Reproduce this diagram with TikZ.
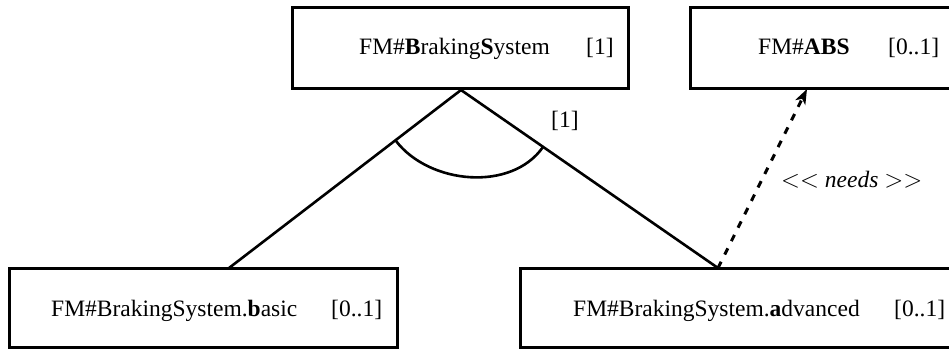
\documentclass[tikz,border=0pt]{standalone}
\usepackage{fontspec}
\setmainfont{Liberation Serif}
\usetikzlibrary{arrows.meta,calc}
\begin{document}
\begin{tikzpicture}[x=1pt,y=-1pt,
  box/.style={draw,line width=3pt,rectangle,inner sep=0pt},
  txt/.style={anchor=base west,inner sep=0pt,font=\fontsize{23.5}{28}\selectfont},
  edge/.style={line width=2.6pt},
  needsarrow/.style={line width=3pt,dash pattern=on 7pt off 8pt,-{Stealth[length=15pt,width=11pt,inset=4pt]}}]
\useasboundingbox (0,0) rectangle (949,349);
% boxes
\node[box,minimum width=336pt,minimum height=81pt] (top) at (460,47.5) {};
\node[box,minimum width=265pt,minimum height=81pt] (abs) at (822.5,47.5) {};
\node[box,minimum width=388pt,minimum height=79pt] (basic) at (203,307.5) {};
\node[box,minimum width=435pt,minimum height=79pt] (adv) at (737.5,307.5) {};
% texts
\node[txt] (tt) at (359,54) {FM\#\textbf{B}raking\textbf{S}ystem};
\node[txt] (tm) at (586,54) {[1]};
\node[txt] (at) at (758,54) {FM\#\textbf{ABS}};
\node[txt] (am) at (888,54) {[0..1]};
\node[txt] (bt) at (51,316) {FM\#BrakingSystem.\textbf{b}asic};
\node[txt] (bm) at (331,316) {[0..1]};
\node[txt] (vt) at (573,316) {FM\#BrakingSystem.\textbf{a}dvanced};
\node[txt] (vm) at (894,316) {[0..1]};
\node[txt] (grp) at (551,127) {[1]};
\node[txt] (needs) at (781,187) {$<<$ \textit{needs} $>>$};
% tree
\coordinate (apex) at (461,90);
\coordinate (lend) at (229,268);
\coordinate (rend) at (718,268);
\draw[edge] (lend) -- (apex) -- (rend);
\coordinate (al) at (396,141);
\coordinate (ar) at (543,147);
\draw[edge] (al) .. controls (429.5,184.5) and (511.6,192) .. (ar);
% needs
\coordinate (abstip) at (807,89);
\draw[needsarrow] (rend) -- (abstip);
\end{tikzpicture}
\end{document}
